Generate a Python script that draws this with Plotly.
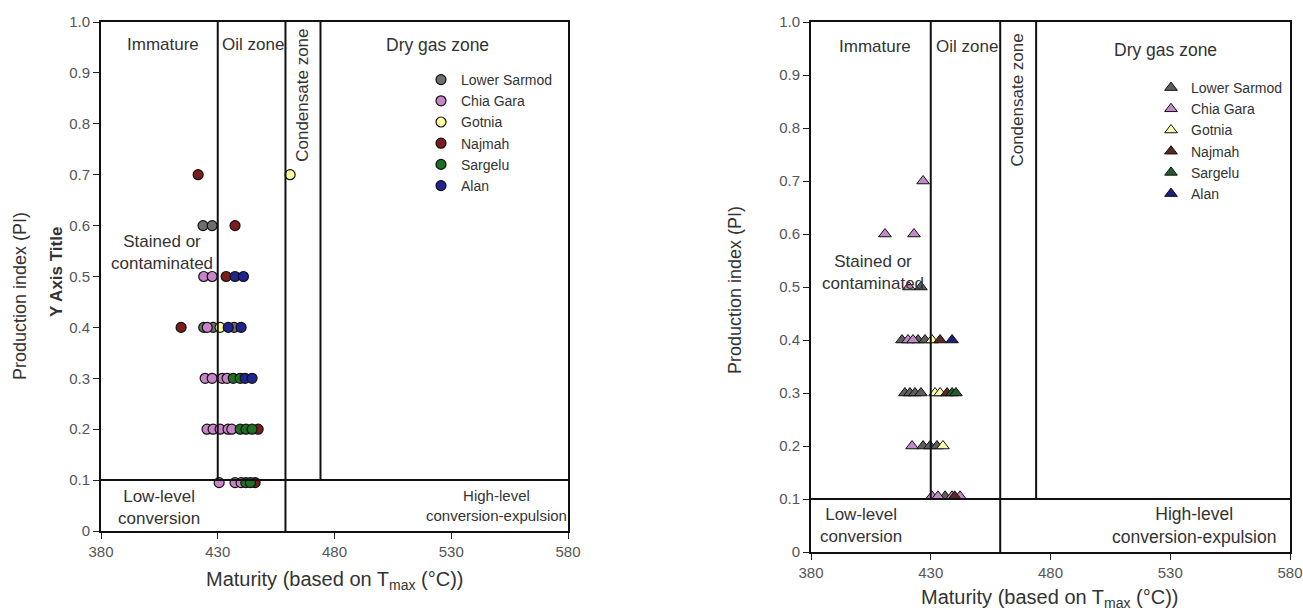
import plotly.graph_objects as go

# ---------------- data ----------------
series = ["Lower Sarmod", "Chia Gara", "Gotnia", "Najmah", "Sargelu", "Alan"]
colors_left = ["#6f6f6f", "#c983c9", "#ffffa0", "#7c1c1c", "#1f6e22", "#1f2490"]
colors_right = ["#5e5e5e", "#c08ac8", "#ffffb0", "#5a2a22", "#215a2f", "#1d1f7a"]

# Left panel (circles): Tmax and PI
L_sarmod_x = [423.7, 427.6, 424.0, 428.0, 437.0]
L_sarmod_y = [0.6, 0.6, 0.4, 0.4, 0.4]
L_chia_x = [424.0, 427.6, 425.5, 424.6, 427.6, 431.9, 434.0, 425.4, 428.0, 431.0, 434.4, 436.0, 430.6, 437.4, 440.0]
L_chia_y = [0.5, 0.5, 0.4, 0.3, 0.3, 0.3, 0.3, 0.2, 0.2, 0.2, 0.2, 0.2, 0.095, 0.095, 0.095]
L_gotnia_x = [461.0, 431.0]
L_gotnia_y = [0.7, 0.4]
L_najmah_x = [421.6, 437.4, 433.6, 414.3, 447.3, 446.0]
L_najmah_y = [0.7, 0.6, 0.5, 0.4, 0.2, 0.095]
L_sargelu_x = [436.6, 439.6, 439.6, 442.1, 444.7, 442.0, 444.0]
L_sargelu_y = [0.3, 0.3, 0.2, 0.2, 0.2, 0.095, 0.095]
L_alan_x = [437.4, 441.0, 434.5, 440.0, 441.7, 444.7]
L_alan_y = [0.5, 0.5, 0.4, 0.4, 0.3, 0.3]

# Right panel (triangles)
R_sarmod_x = [425.9, 418.0, 424.7, 427.6, 419.2, 421.3, 423.4, 425.9, 426.8, 429.7, 432.6, 436.0]
R_sarmod_y = [0.5, 0.4, 0.4, 0.4, 0.3, 0.3, 0.3, 0.3, 0.2, 0.2, 0.2, 0.105]
R_chia_x = [426.8, 410.9, 423.0, 420.9, 420.5, 422.6, 422.2, 430.5, 433.0, 438.9, 442.2]
R_chia_y = [0.7, 0.6, 0.6, 0.5, 0.4, 0.4, 0.2, 0.105, 0.105, 0.105, 0.105]
R_gotnia_x = [430.5, 431.8, 433.9, 435.1]
R_gotnia_y = [0.4, 0.3, 0.3, 0.2]
R_najmah_x = [433.9, 436.8, 440.0]
R_najmah_y = [0.4, 0.3, 0.105]
R_sargelu_x = [438.9, 440.5]
R_sargelu_y = [0.3, 0.3]
R_alan_x = [438.9]
R_alan_y = [0.4]

x_ticks = [380, 430, 480, 530, 580]
y_ticks = [0, 0.1, 0.2, 0.3, 0.4, 0.5, 0.6, 0.7, 0.8, 0.9, 1.0]
y_ticktext = ["0", "0.1", "0.2", "0.3", "0.4", "0.5", "0.6", "0.7", "0.8", "0.9", "1.0"]

# zone boundaries
oil_start = 430
cond_start = 459
cond_end = 474
pi_limit = 0.1

FONT = "Liberation Sans, Arial, sans-serif"
TXT = "#333333"

# full-window figure (body margin removed by post_script)
W, H, OFF = 1303, 610, 0
def px(p):
    return (p - OFF) / W
def py(p):
    return 1 - (p - OFF) / H

left_data = list(zip(series, colors_left,
                     [L_sarmod_x, L_chia_x, L_gotnia_x, L_najmah_x, L_sargelu_x, L_alan_x],
                     [L_sarmod_y, L_chia_y, L_gotnia_y, L_najmah_y, L_sargelu_y, L_alan_y]))
right_data = list(zip(series, colors_right,
                      [R_sarmod_x, R_chia_x, R_gotnia_x, R_najmah_x, R_sargelu_x, R_alan_x],
                      [R_sarmod_y, R_chia_y, R_gotnia_y, R_najmah_y, R_sargelu_y, R_alan_y]))

fig = go.Figure()
for name, col, xs, ys in left_data:
    fig.add_trace(go.Scatter(x=xs, y=ys, mode="markers", name=name, xaxis="x", yaxis="y",
                             legend="legend",
                             marker=dict(symbol="circle", size=10, color=col,
                                         line=dict(color="#111111", width=1.2))))
for name, col, xs, ys in right_data:
    fig.add_trace(go.Scatter(x=xs, y=ys, mode="markers", name=name, xaxis="x2", yaxis="y2",
                             legend="legend2",
                             marker=dict(symbol="triangle-up", size=11, color=col,
                                         line=dict(color="#111111", width=1))))

axis_common = dict(range=[380, 580], tickvals=x_ticks, ticks="outside", ticklen=6,
                   tickcolor="#222", showline=True, linecolor="#111", linewidth=2,
                   mirror=True, showgrid=False, zeroline=False, automargin=False,
                   tickfont=dict(family=FONT, size=15, color="#555555"))
yaxis_common = dict(range=[0, 1], tickvals=y_ticks, ticktext=y_ticktext, ticks="outside",
                    ticklen=6, tickcolor="#222", showline=True, linecolor="#111", linewidth=2,
                    mirror=True, showgrid=False, zeroline=False, automargin=False,
                    tickfont=dict(family=FONT, size=15, color="#555555"))

fig.update_layout(
    width=W, height=H,
    margin=dict(l=0, r=0, t=0, b=0, pad=0),
    paper_bgcolor="white", plot_bgcolor="white",
    font=dict(family=FONT, color=TXT),
    xaxis=dict(domain=[px(101), px(568)], anchor="y", **axis_common),
    yaxis=dict(domain=[py(531), py(22)], anchor="x", **yaxis_common),
    xaxis2=dict(domain=[px(811), px(1290)], anchor="y2", **axis_common),
    yaxis2=dict(domain=[py(552), py(22)], anchor="x2", **yaxis_common),
    legend=dict(x=px(421), y=py(64), xanchor="left", yanchor="top", bgcolor="rgba(0,0,0,0)",
                font=dict(family=FONT, size=14, color=TXT), itemwidth=30, tracegroupgap=0),
    legend2=dict(x=px(1151), y=py(72), xanchor="left", yanchor="top", bgcolor="rgba(0,0,0,0)",
                 font=dict(family=FONT, size=14, color=TXT), itemwidth=30, tracegroupgap=0),
    showlegend=True,
)

shapes = []
for xr, yr in [("x", "y"), ("x2", "y2")]:
    lw = dict(color="#111111", width=2)
    shapes += [
        dict(type="line", xref=xr, yref=yr, x0=oil_start, x1=oil_start, y0=pi_limit, y1=1, line=lw),
        dict(type="line", xref=xr, yref=yr, x0=cond_start, x1=cond_start, y0=0, y1=1, line=lw),
        dict(type="line", xref=xr, yref=yr, x0=cond_end, x1=cond_end, y0=pi_limit, y1=1, line=lw),
        dict(type="line", xref=xr, yref=yr, x0=380, x1=580, y0=pi_limit, y1=pi_limit, line=lw),
    ]
fig.update_layout(shapes=shapes)

ann = []
def A(text, x, y, xr, yr, size=17, angle=0, **kw):
    d = dict(text=text, x=x, y=y, xref=xr, yref=yr, showarrow=False, textangle=angle,
             xanchor="center", yanchor="middle",
             font=dict(family=FONT, size=size, color=TXT))
    d.update(kw)
    ann.append(d)

# Left panel texts
A("Immature", 406.5, 0.955, "x", "y")
A("Oil zone", 445, 0.955, "x", "y")
A("Dry gas zone", 524, 0.955, "x", "y", size=17.5)
A("Condensate zone", 466.5, 0.857, "x", "y", angle=-90)
A("Stained or<br>contaminated", 406, 0.548, "x", "y")
A("Low-level<br>conversion", 405, 0.047, "x", "y")
A("High-level<br>conversion-expulsion", 549.5, 0.05, "x", "y", size=15)
# Right panel texts
A("Immature", 406.7, 0.953, "x2", "y2")
A("Oil zone", 445, 0.953, "x2", "y2")
A("Dry gas zone", 528, 0.947, "x2", "y2", size=17.5)
A("Condensate zone", 466.3, 0.853, "x2", "y2", angle=-90)
A("Stained or<br>contaminated", 406, 0.528, "x2", "y2")
A("Low-level<br>conversion", 401, 0.05, "x2", "y2")
A("High-level<br>conversion-expulsion", 540, 0.05, "x2", "y2", size=17.5)

# Axis titles
A("Maturity (based on T<sub>max</sub> (°C))", px(334), py(580), "paper", "paper", size=20)
A("Maturity (based on T<sub>max</sub> (°C))", px(1049), py(598), "paper", "paper", size=20)
A("Production index (PI)", px(20), py(296), "paper", "paper", size=18, angle=-90)
A("Production index (PI)", px(735), py(290), "paper", "paper", size=18, angle=-90)
A("<b>Y Axis Title</b>", px(56), py(272), "paper", "paper", size=17, angle=-90)

fig.update_layout(annotations=ann)

fig.write_html("out.html", config={"displayModeBar": False},
               post_script="document.body.style.margin='0';document.body.style.overflow='hidden';")
